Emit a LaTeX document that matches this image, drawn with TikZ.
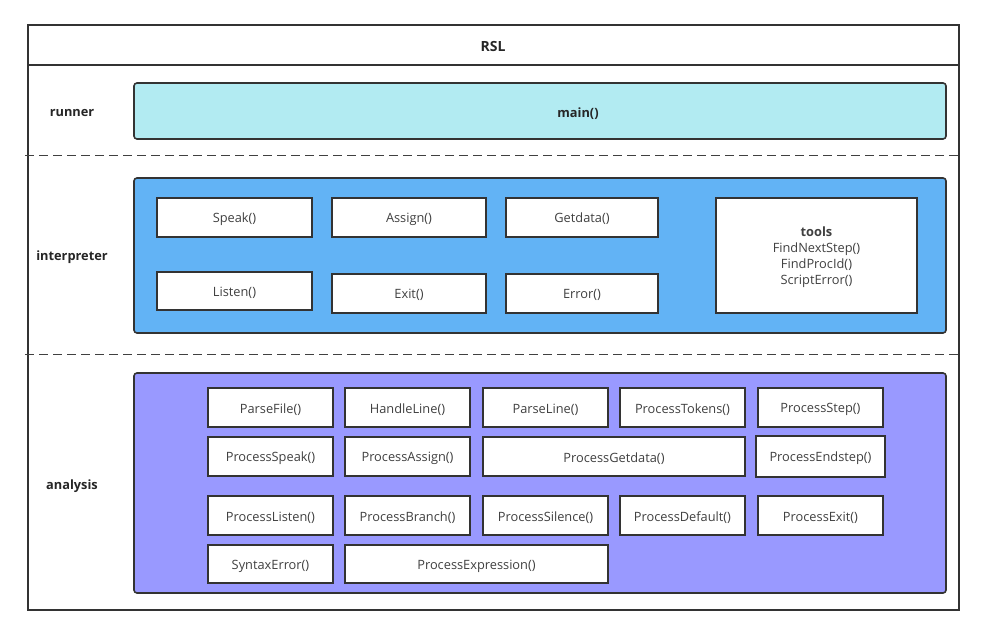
\documentclass[tikz,border=0pt]{standalone}
\usepackage{fontspec}
\setmainfont{Open Sans}
\begin{document}
\begin{tikzpicture}[x=1pt,y=-1pt,
  edge/.style={draw=black!80, line width=1.8pt},
  lane/.style={draw=black!80, line width=1.6pt, rounded corners=3pt},
  fn/.style={draw=black!80, line width=1.6pt, fill=white},
  txt/.style={font=\fontsize{12.8}{15}\selectfont, text=black!75, yshift=-1.5pt},
  btxt/.style={font=\fontsize{12.8}{15}\selectfont\bfseries, text=black!85, yshift=-1.5pt},
  sep/.style={draw=black!75, line width=1pt, dash pattern=on 9pt off 5pt}]
\useasboundingbox (0,0) rectangle (985,636);
\fill[white] (0,0) rectangle (985,636);
% outer frame
\draw[edge] (28,25) rectangle (959,610);
\draw[edge] (28,65) -- (959,65);
\node[btxt, font=\fontsize{14}{16}\selectfont\bfseries] (title) at (493,45) {RSL};
% separators
\coordinate (s1a) at (25,156); \coordinate (s1b) at (959,156);
\coordinate (s2a) at (25,354); \coordinate (s2b) at (959,354);
\draw[sep] (s1a) -- (s1b);
\draw[sep] (s2a) -- (s2b);
% lane labels
\node[btxt] (lrun) at (72,112) {runner};
\node[btxt] (lint) at (72,256) {interpreter};
\node[btxt] (lana) at (72,485) {analysis};
% runner
\draw[lane, fill={rgb,255:red,178;green,235;blue,242}] (134,83) rectangle (946,139);
\node[btxt] (main) at (578,112) {main()};
% interpreter
\draw[lane, fill={rgb,255:red,98;green,179;blue,245}] (134,178) rectangle (946,333);
\draw[fn] (157,198) rectangle (312,237); \node[txt] (speak) at (234.5,217.5) {Speak()};
\draw[fn] (332,198) rectangle (486,237); \node[txt] (assign) at (409,217.5) {Assign()};
\draw[fn] (506,198) rectangle (658,237); \node[txt] (getdata) at (582,217.5) {Getdata()};
\draw[fn] (157,272) rectangle (312,310); \node[txt] (listen) at (234.5,291) {Listen()};
\draw[fn] (332,274) rectangle (486,313); \node[txt] (exit) at (409,293.5) {Exit()};
\draw[fn] (506,274) rectangle (658,313); \node[txt] (error) at (582,293.5) {Error()};
\draw[fn] (716,198) rectangle (917,313);
\node[txt, align=center, font=\fontsize{12.8}{16}\selectfont] (tools) at (816.5,256) {{\bfseries tools}\\FindNextStep()\\FindProcId()\\ScriptError()};
% analysis
\draw[lane, fill={rgb,255:red,153;green,153;blue,255}] (134,373) rectangle (946,593);
\draw[fn] (208,388) rectangle (333,427); \node[txt] (a1) at (270.5,408) {ParseFile()};
\draw[fn] (345,388) rectangle (470,427); \node[txt] (a2) at (407.5,408) {HandleLine()};
\draw[fn] (483,388) rectangle (608,427); \node[txt] (a3) at (545.5,408) {ParseLine()};
\draw[fn] (620,388) rectangle (745,427); \node[txt] (a4) at (682.5,408) {ProcessTokens()};
\draw[fn] (758,388) rectangle (883,427); \node[txt] (a5) at (820.5,408) {ProcessStep()};
\draw[fn] (208,437) rectangle (333,476); \node[txt] (b1) at (270.5,457) {ProcessSpeak()};
\draw[fn] (345,437) rectangle (470,476); \node[txt] (b2) at (407.5,457) {ProcessAssign()};
\draw[fn] (483,437) rectangle (745,476); \node[txt] (b3) at (614,457) {ProcessGetdata()};
\draw[fn] (756,436) rectangle (885,477); \node[txt] (b4) at (820.5,457) {ProcessEndstep()};
\draw[fn] (208,496) rectangle (333,535); \node[txt] (c1) at (270.5,516) {ProcessListen()};
\draw[fn] (345,496) rectangle (470,535); \node[txt] (c2) at (407.5,516) {ProcessBranch()};
\draw[fn] (483,496) rectangle (608,535); \node[txt] (c3) at (545.5,516) {ProcessSilence()};
\draw[fn] (620,496) rectangle (745,535); \node[txt] (c4) at (682.5,516) {ProcessDefault()};
\draw[fn] (758,496) rectangle (883,535); \node[txt] (c5) at (820.5,516) {ProcessExit()};
\draw[fn] (208,545) rectangle (333,583); \node[txt] (d1) at (270.5,564.5) {SyntaxError()};
\draw[fn] (345,545) rectangle (608,583); \node[txt] (d2) at (476.5,564.5) {ProcessExpression()};
\end{tikzpicture}
\end{document}
